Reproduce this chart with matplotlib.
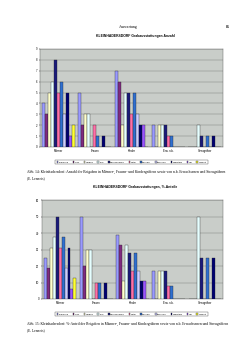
import numpy as np
import matplotlib
matplotlib.use('Agg')
import matplotlib.pyplot as plt

categories = ['Männer', 'Frauen', 'Kinder', 'Erw. n.b.', 'Streugräber']
series = ['Schmuck', 'Silex', 'Gefäße', 'SLK', 'Dechsel/Beile', 'Rötel',
          'Muschel', 'Knochen', 'Reibstein', 'Tier', 'Graphit']
colors = ['#9999FF', '#7F2A7F', '#FFFFCC', '#E6FFFF', '#1A1A7A', '#FF6FA8',
          '#2F6FD0', '#CCCCFF', '#000070', '#9A55FF', '#FFFF33']

# Anzahl
counts = [
    [4, 5, 7, 2, 0],
    [3, 2, 6, 0, 0],
    [5, 3, 2, 2, 0],
    [6, 3, 5, 2, 2],
    [8, 0, 5, 2, 1],
    [5, 2, 3, 1, 0],
    [6, 1, 5, 1, 1],
    [3, 0, 3, 0, 0],
    [5, 1, 2, 0, 1],
    [1, 0, 2, 0, 0],
    [2, 0, 0, 0, 0],
]
# %-Anteil
percents = [
    [25, 50, 39, 17, 0],
    [19, 20, 33, 0, 0],
    [31, 30, 11, 17, 0],
    [37.5, 30, 33, 17, 50],
    [50, 0, 28, 17, 25],
    [31, 10, 17, 8, 0],
    [37.5, 10, 28, 8, 25],
    [19, 0, 17, 0, 0],
    [31, 10, 11, 0, 25],
    [6, 0, 11, 0, 0],
    [12.5, 0, 0, 0, 0],
]

plt.rcParams['font.family'] = ['Liberation Sans', 'DejaVu Sans']
fig = plt.figure(figsize=(2.5, 3.54), dpi=100)

fig.text(0.515, 1 - 27 / 354, 'Auswertung', fontsize=2.8, ha='center', va='center',
         family='Liberation Serif')
fig.text(0.91, 1 - 27 / 354, '85', fontsize=2.8, ha='center', va='center',
         fontweight='bold', family='Liberation Serif')

x = np.arange(len(categories))
n = len(series)
bw = 0.9 / n


def draw(rect, data, ymax, step, title, title_y, leg_y):
    ax = fig.add_axes(rect)
    ax.set_facecolor('#C9CDC9')
    for i in range(n):
        ax.bar(x - 0.45 + bw * (i + 0.5), data[i], bw, color=colors[i],
               edgecolor='#222222', linewidth=0.25, label=series[i], zorder=3)
    ax.set_xlim(-0.5, len(categories) - 0.5)
    ax.set_ylim(0, ymax)
    ax.set_yticks(np.arange(0, ymax + step, step))
    ax.yaxis.grid(True, color='#777777', linewidth=0.3, zorder=0)
    ax.set_xticks(x)
    ax.set_xticklabels(categories)
    ax.tick_params(labelsize=2, length=1, width=0.3, pad=1)
    ax.tick_params(axis='x', length=0, pad=1.5)
    for s in ax.spines.values():
        s.set_linewidth(0.3)
        s.set_color('#555555')
    fig.text(0.54, title_y, title, fontsize=2.4, fontweight='bold', ha='center', va='center')
    leg = fig.legend(*ax.get_legend_handles_labels(), loc='center',
                     bbox_to_anchor=(0.526, leg_y), ncol=n, fontsize=1.75,
                     handlelength=0.7, handleheight=0.7, handletextpad=0.2,
                     columnspacing=1.5, borderpad=0.45, frameon=True, fancybox=False)
    leg.get_frame().set_edgecolor('#222222')
    leg.get_frame().set_linewidth(0.3)
    return ax


draw([40 / 250, 1 - 147 / 354, 183 / 250, 98 / 354], counts, 9, 1,
     'KLEINHADERSDORF Grabausstattungen Anzahl', 1 - 36 / 354, 1 - 162 / 354)
draw([42 / 250, 1 - 299 / 354, 181 / 250, 99 / 354], percents, 60, 10,
     'KLEINHADERSDORF Grabausstattungen, %-Anteile', 1 - 187 / 354, 1 - 314 / 354)

fig.text(27 / 250, 1 - 175 / 354,
         'Abb. 14: Kleinhadersdorf: Anzahl der Beigaben in Männer-, Frauen- und Kindergräbern sowie von n.b. Erwachsenen und Streugräbern\n(E. Lenneis)',
         fontsize=2.6, family='Liberation Serif', va='center', ha='left', linespacing=1.5)
fig.text(27 / 250, 1 - 327 / 354,
         'Abb. 15: Kleinhadersdorf: %-Anteil der Beigaben in Männer-, Frauen- und Kindergräbern sowie von n.b. Erwachsenen und Streugräbern\n(E. Lenneis)',
         fontsize=2.6, family='Liberation Serif', va='center', ha='left', linespacing=1.5)

fig.savefig('out.png', dpi=100, facecolor='white')
